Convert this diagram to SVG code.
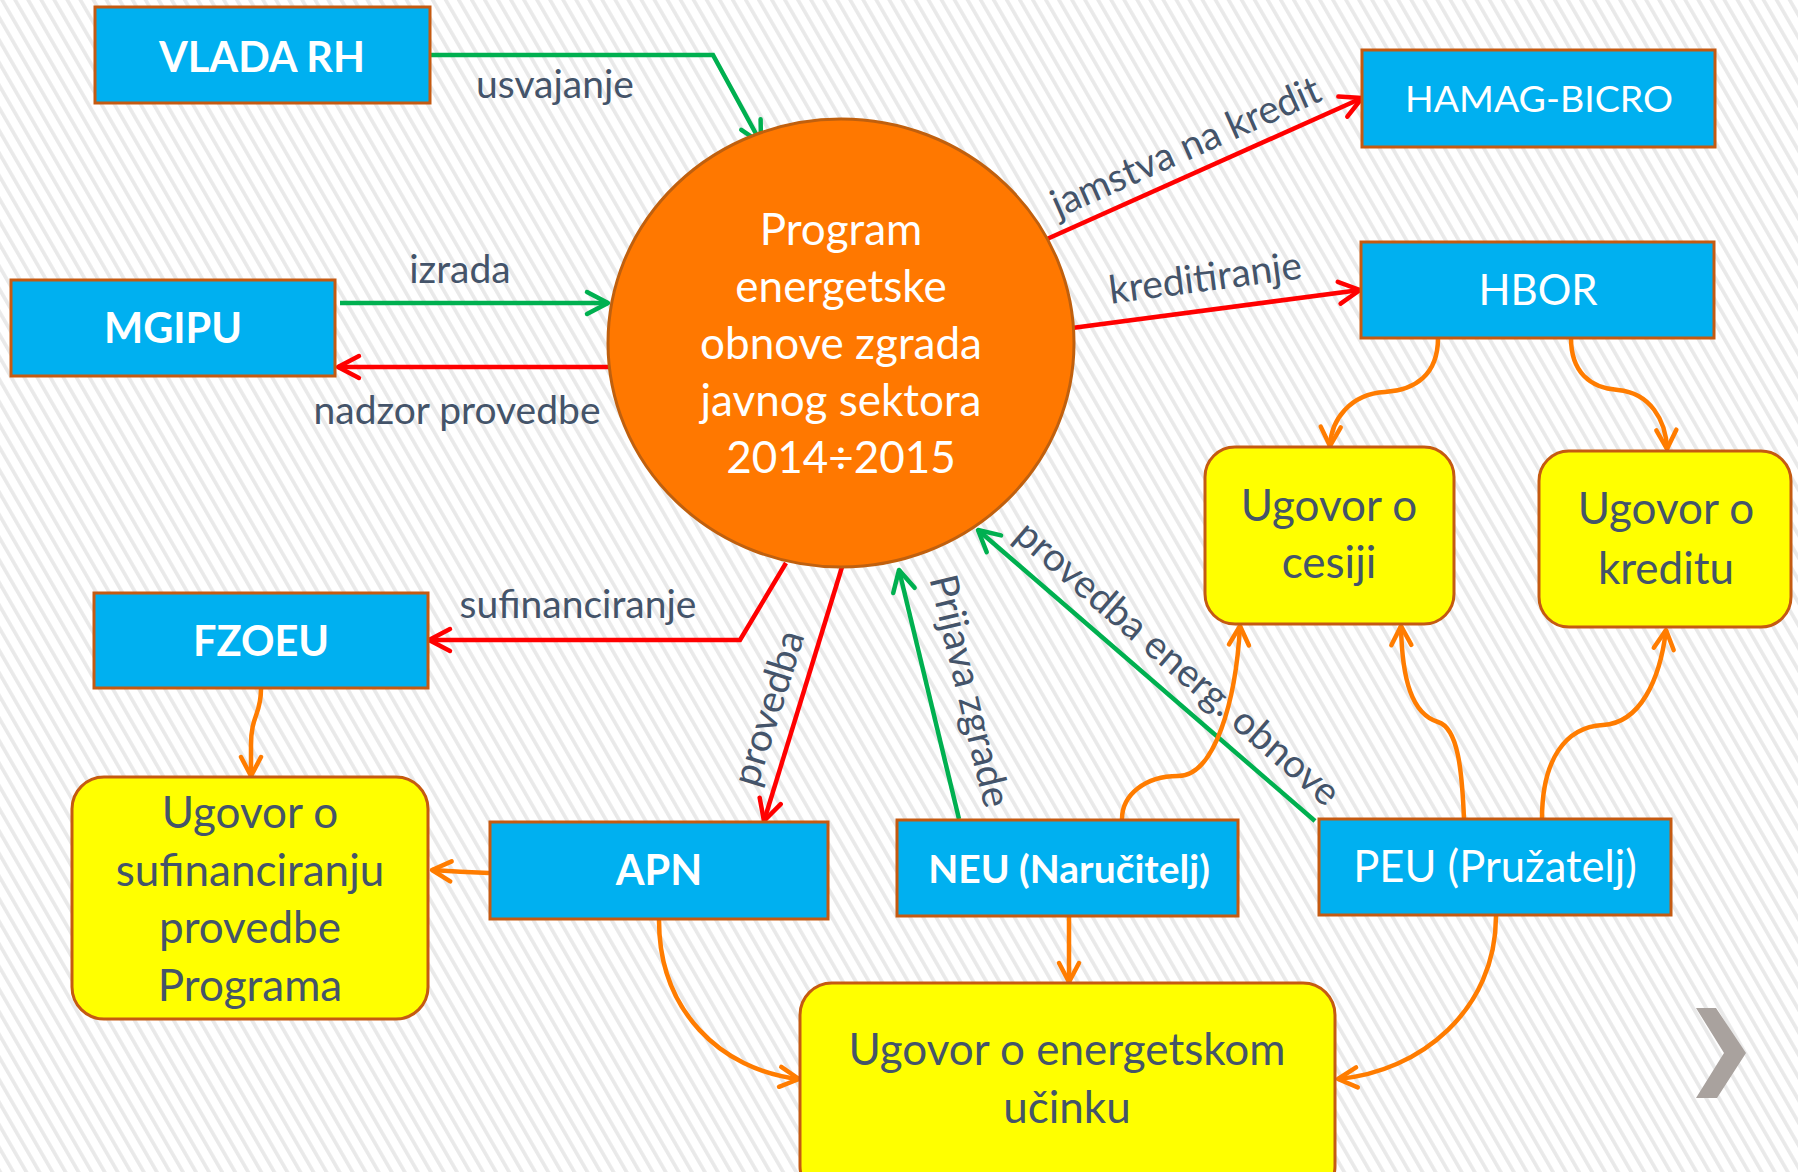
<svg xmlns="http://www.w3.org/2000/svg" width="1798" height="1172" viewBox="0 0 1798 1172">
<defs>
<pattern id="bg" patternUnits="userSpaceOnUse" width="11.3" height="11.3" patternTransform="rotate(-30)">
<rect width="11.3" height="11.3" fill="#ffffff"/>
<rect x="0" y="0" width="3.6" height="11.3" fill="#e9e9e9"/>
</pattern>
<marker id="ag" markerUnits="userSpaceOnUse" markerWidth="40" markerHeight="40" viewBox="-30 -20 40 40" refX="0" refY="0" orient="auto">
<path d="M-21,-11 L0,0 L-21,11" fill="none" stroke="#00B050" stroke-width="4.5" stroke-linecap="round" stroke-linejoin="round"/>
</marker>
<marker id="ar" markerUnits="userSpaceOnUse" markerWidth="40" markerHeight="40" viewBox="-30 -20 40 40" refX="0" refY="0" orient="auto">
<path d="M-21,-11 L0,0 L-21,11" fill="none" stroke="#FF0000" stroke-width="4.5" stroke-linecap="round" stroke-linejoin="round"/>
</marker>
<marker id="ao" markerUnits="userSpaceOnUse" markerWidth="40" markerHeight="40" viewBox="-30 -20 40 40" refX="0" refY="0" orient="auto">
<path d="M-19,-10 L0,0 L-19,10" fill="none" stroke="#FF7C00" stroke-width="4.5" stroke-linecap="round" stroke-linejoin="round"/>
</marker>
</defs>
<style>
.blue{fill:#00B0F0;stroke:#C55A11;stroke-width:3}
.yel{fill:#FFFF00;stroke:#C55A11;stroke-width:3}
.circ{fill:#FF7800;stroke:#C0600E;stroke-width:3}
.nb{font-family:Lato,"Open Sans",sans-serif;font-weight:bold;fill:#ffffff;text-anchor:middle}
.nr{font-family:Lato,"Open Sans",sans-serif;fill:#ffffff;text-anchor:middle}
.yt{font-family:Lato,"Open Sans",sans-serif;fill:#44546A;text-anchor:middle;font-size:44px}
.ct{font-family:Lato,"Open Sans",sans-serif;fill:#ffffff;text-anchor:middle;font-size:44px}
.lb{font-family:Lato,"Open Sans",sans-serif;fill:#44546A;text-anchor:middle;font-size:39px}
.g{fill:none;stroke:#00B050;stroke-width:4.5;marker-end:url(#ag)}
.r{fill:none;stroke:#FF0000;stroke-width:4.5;marker-end:url(#ar)}
.o{fill:none;stroke:#FF7C00;stroke-width:4.5;marker-end:url(#ao)}
</style>
<rect width="1798" height="1172" fill="url(#bg)"/>

<g id="connectors">
<polyline class="g" points="430,55 713,55 761,143"/>
<line class="g" x1="340" y1="303" x2="608" y2="303"/>
<line class="g" x1="959" y1="819" x2="899" y2="570"/>
<line class="g" x1="1315" y1="821" x2="978" y2="530"/>
<line class="r" x1="613" y1="367" x2="338" y2="367"/>
<line class="r" x1="1047" y1="239" x2="1362" y2="98"/>
<line class="r" x1="1072" y1="328" x2="1360" y2="290"/>
<polyline class="r" points="786,563 740,640 429,640"/>
<line class="r" x1="842" y1="567" x2="764" y2="821"/>
<path class="o" d="M261,689 C261,715 251,715 251,745 L251,776"/>
<path class="o" d="M489,873 Q460,872 432,870"/>
<path class="o" d="M659,920 C659,1010 720,1070 799,1079"/>
<line class="o" x1="1069" y1="916" x2="1069" y2="982"/>
<path class="o" d="M1496,916 C1496,1010 1420,1072 1338,1079"/>
<path class="o" d="M1122,819 C1122,795 1145,776 1178,776 C1215,776 1236,700 1240,626"/>
<path class="o" d="M1464,819 C1462,770 1458,728 1438,722 C1412,714 1402,680 1401,626"/>
<path class="o" d="M1542,819 C1542,760 1565,727 1603,725 C1640,723 1660,680 1666,630"/>
<path class="o" d="M1438,338 C1438,375 1415,390 1385,392 C1350,394 1331,420 1330,446"/>
<path class="o" d="M1571,338 C1571,372 1590,388 1618,390 C1650,393 1666,420 1667,449"/>
<text class="lb" x="555" y="98">usvajanje</text>
<text class="lb" x="460" y="283">izrada</text>
<text class="lb" x="457" y="424">nadzor provedbe</text>
<text class="lb" x="578" y="618">sufinanciranje</text>
<text class="lb" transform="translate(1191,159) rotate(-24)">jamstva na kredit</text>
<text class="lb" transform="translate(1207,291) rotate(-7.5)">kreditiranje</text>
<text class="lb" transform="translate(781,712) rotate(-72.7)">provedba</text>
<text class="lb" transform="translate(957,694) rotate(76.5)">Prijava zgrade</text>
<text class="lb" transform="translate(1169,673) rotate(40.7)">provedba energ. obnove</text>
</g>

<g id="program">
<ellipse class="circ" cx="841" cy="343" rx="233" ry="224"/>
<text class="ct" x="841" y="245">Program</text>
<text class="ct" x="841" y="302">energetske</text>
<text class="ct" x="841" y="359">obnove zgrada</text>
<text class="ct" x="841" y="416">javnog sektora</text>
<text class="ct" x="841" y="473">2014÷2015</text>
</g>

<g id="vlada"><rect class="blue" x="95" y="7" width="335" height="96"/><text class="nb" x="262" y="72" font-size="41.5">VLADA RH</text></g>
<g id="mgipu"><rect class="blue" x="11" y="280" width="324" height="96"/><text class="nb" x="173" y="343" font-size="41.5">MGIPU</text></g>
<g id="hamag"><rect class="blue" x="1362" y="50" width="353" height="97"/><text class="nr" x="1539" y="112" font-size="37.5">HAMAG-BICRO</text></g>
<g id="hbor"><rect class="blue" x="1361" y="242" width="353" height="96"/><text class="nr" x="1538" y="305" font-size="42">HBOR</text></g>
<g id="fzoeu"><rect class="blue" x="94" y="593" width="334" height="95"/><text class="nb" x="261" y="656" font-size="41.5">FZOEU</text></g>
<g id="apn"><rect class="blue" x="490" y="822" width="338" height="97"/><text class="nb" x="659" y="885" font-size="41.5">APN</text></g>
<g id="neu"><rect class="blue" x="897" y="820" width="341" height="96"/><text class="nb" x="1069" y="883" font-size="39">NEU (Naručitelj)</text></g>
<g id="peu"><rect class="blue" x="1319" y="819" width="352" height="96"/><text class="nr" x="1495" y="882" font-size="43.5">PEU (Pružatelj)</text></g>

<g id="ug-cesiji"><rect class="yel" x="1205" y="447" width="249" height="177" rx="30"/><text class="yt" x="1329" y="521">Ugovor o</text><text class="yt" x="1329" y="578">cesiji</text></g>
<g id="ug-kreditu"><rect class="yel" x="1539" y="451" width="252" height="176" rx="30"/><text class="yt" x="1666" y="524">Ugovor o</text><text class="yt" x="1666" y="584">kreditu</text></g>
<g id="ug-sufin"><rect class="yel" x="72" y="777" width="356" height="242" rx="32"/><text class="yt" x="250" y="828">Ugovor o</text><text class="yt" x="250" y="886">sufinanciranju</text><text class="yt" x="250" y="943">provedbe</text><text class="yt" x="250" y="1001">Programa</text></g>
<g id="ug-energ"><rect class="yel" x="800" y="983" width="535" height="215" rx="32"/><text class="yt" x="1067" y="1065">Ugovor o energetskom</text><text class="yt" x="1067" y="1123">učinku</text></g>

<polygon points="1696,1008 1716,1008 1746,1053 1717,1098 1696,1098 1724,1053" fill="#A9A29E"/>
</svg>
